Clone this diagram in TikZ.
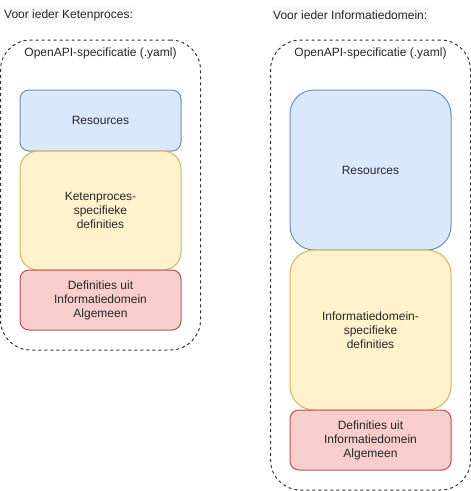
\documentclass[tikz,border=0pt]{standalone}
\usepackage{fontspec}
\setmainfont{Liberation Sans}
\usetikzlibrary{positioning}
\definecolor{resfill}{HTML}{DAE8FC}
\definecolor{resline}{HTML}{6C8EBF}
\definecolor{deffill}{HTML}{FFF2CC}
\definecolor{defline}{HTML}{D6B656}
\definecolor{algfill}{HTML}{F8CECC}
\definecolor{algline}{HTML}{B85450}
\definecolor{titlebg}{HTML}{F8F9FA}
\tikzset{
  box/.style={draw,line width=1pt,align=center,inner sep=0pt,minimum width=161pt},
  resbox/.style={box,fill=resfill,draw=resline},
  defbox/.style={box,fill=deffill,draw=defline},
  algbox/.style={box,fill=algfill,draw=algline},
  container/.style={draw=black!80,line width=1pt,dash pattern=on 3pt off 3pt,rounded corners=30pt,inner sep=0pt,minimum width=200pt},
  heading/.style={anchor=west,fill=titlebg,inner sep=1pt,minimum height=16pt},
}
\begin{document}
\begin{tikzpicture}[x=1pt,y=-1pt,font=\fontsize{12}{14}\selectfont,text=black!85]
\useasboundingbox (0,0) rectangle (471,491);
% left: ketenproces
\node[heading] (titleK) at (3,15) {Voor ieder Ketenproces:};
\node[container,minimum height=310pt] (specK) at (100.5,195) {};
\node (labelK) at (100.5,53) {OpenAPI-specificatie (.yaml)};
\node[resbox,rounded corners=9pt,minimum height=61pt] (resK) at (100.5,120.5) {Resources};
\node[defbox,rounded corners=18pt,minimum height=119pt] (defK) at (100.5,210.5) {Ketenproces-\\specifieke\\definities};
\node[algbox,rounded corners=9pt,minimum height=60pt] (algK) at (100.5,300) {Definities uit\\Informatiedomein\\Algemeen};
% right: informatiedomein
\node[heading] (titleI) at (272,15) {Voor ieder Informatiedomein:};
\node[container,minimum height=450pt] (specI) at (370.5,265) {};
\node (labelI) at (370.5,53) {OpenAPI-specificatie (.yaml)};
\node[resbox,rounded corners=24pt,minimum height=160pt] (resI) at (370.5,170) {Resources};
\node[defbox,rounded corners=24pt,minimum height=160pt] (defI) at (370.5,330) {Informatiedomein-\\specifieke\\definities};
\node[algbox,rounded corners=9pt,minimum height=60pt] (algI) at (370.5,440) {Definities uit\\Informatiedomein\\Algemeen};
\end{tikzpicture}
\end{document}
